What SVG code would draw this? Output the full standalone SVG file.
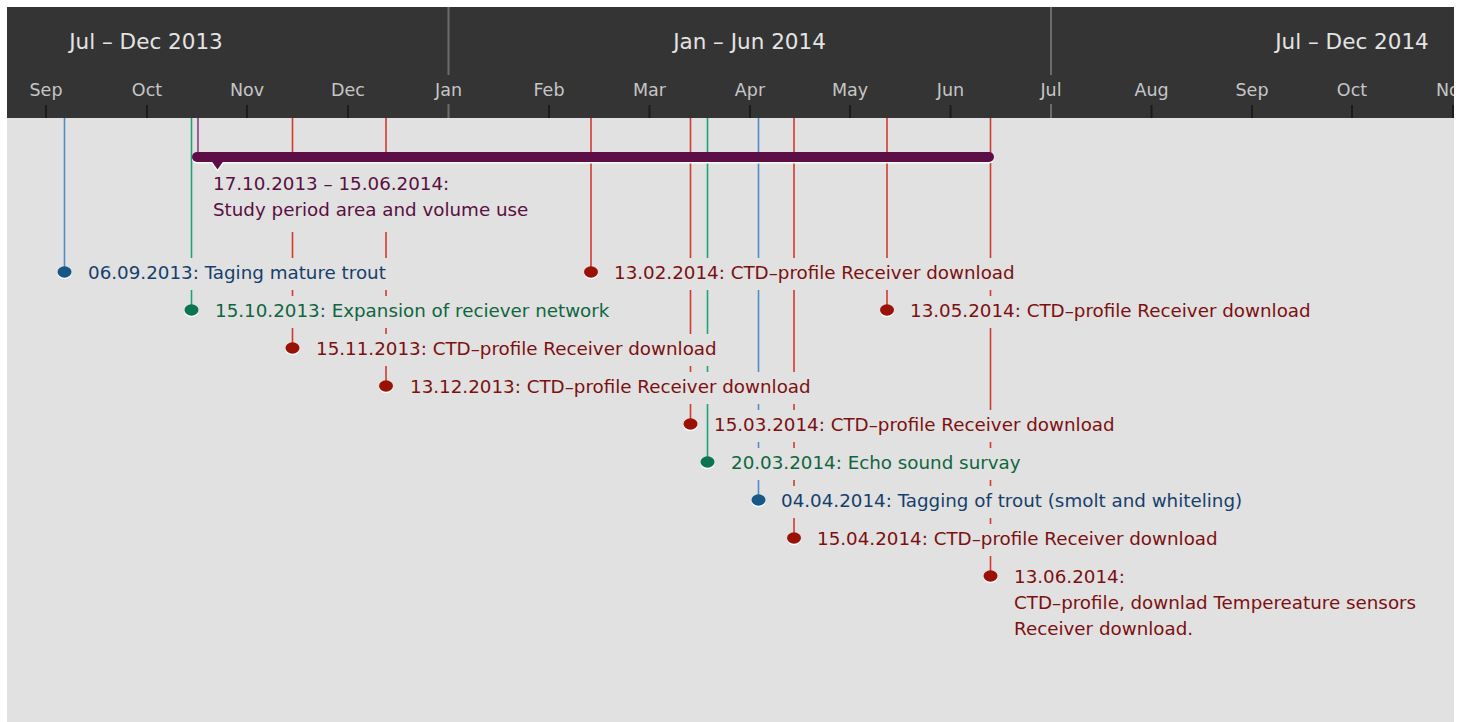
<svg xmlns="http://www.w3.org/2000/svg" width="1460" height="722" viewBox="0 0 1460 722">
  <style>
    .hdr{fill:#343434}
    .yr{font-family:"DejaVu Sans",sans-serif;font-size:21.5px;fill:#e4e4e4;text-anchor:middle}
    .mo{font-family:"DejaVu Sans",sans-serif;font-size:17.5px;fill:#c6c6c6;text-anchor:middle}
    .tick{stroke:#1b1b1b;stroke-width:2}
    .major{stroke:#6c6c6c;stroke-width:2}
    .lbl{font-family:"DejaVu Sans",sans-serif;font-size:18.3px}
    .bg{fill:#e1e1e1}
    .shadow{fill:#ffffff}
    .stem{stroke-width:1.6;fill:none}
    .red .stem{stroke:#d23a2e}
    .red .dot{fill:#9a1205}
    .red text{fill:#7c1010}
    .blue .stem{stroke:#4f8dc6}
    .blue .dot{fill:#175888}
    .blue text{fill:#163f6b}
    .green .stem{stroke:#1fa27a}
    .green .dot{fill:#0b7550}
    .green text{fill:#0f6640}
    .purple .stem{stroke:#8c3a86}
    .purple .bar{fill:#5d0e47}
    .purple text{fill:#5a0f42}
  </style>
  <defs>
    <clipPath id="panel"><rect x="7" y="7" width="1447" height="715"/></clipPath>
  </defs>

  <rect width="1460" height="722" fill="#ffffff"/>

  <g clip-path="url(#panel)">
    <rect x="7" y="7" width="1447" height="715" fill="#e1e1e1"/>

    <!-- time axis header -->
    <g id="axis">
      <rect class="hdr" x="7" y="7" width="1447" height="111"/>
      <text class="yr" x="146" y="49">Jul – Dec 2013</text>
      <text class="yr" x="749.5" y="49">Jan – Jun 2014</text>
      <text class="yr" x="1352" y="49">Jul – Dec 2014</text>
      <line class="major" x1="448.5" y1="7" x2="448.5" y2="75"/>
      <line class="major" x1="1051" y1="7" x2="1051" y2="75"/>
      <line class="major" x1="448.5" y1="104" x2="448.5" y2="118"/>
      <line class="major" x1="1051" y1="104" x2="1051" y2="118"/>
      <g>
        <line class="tick" x1="46" y1="105" x2="46" y2="118"/>
        <line class="tick" x1="147" y1="105" x2="147" y2="118"/>
        <line class="tick" x1="247" y1="105" x2="247" y2="118"/>
        <line class="tick" x1="348" y1="105" x2="348" y2="118"/>
        <line class="tick" x1="549" y1="105" x2="549" y2="118"/>
        <line class="tick" x1="649.5" y1="105" x2="649.5" y2="118"/>
        <line class="tick" x1="750" y1="105" x2="750" y2="118"/>
        <line class="tick" x1="850" y1="105" x2="850" y2="118"/>
        <line class="tick" x1="950.5" y1="105" x2="950.5" y2="118"/>
        <line class="tick" x1="1151.5" y1="105" x2="1151.5" y2="118"/>
        <line class="tick" x1="1252" y1="105" x2="1252" y2="118"/>
        <line class="tick" x1="1352" y1="105" x2="1352" y2="118"/>
        <line class="tick" x1="1453" y1="105" x2="1453" y2="118"/>
      </g>
      <text class="mo" x="46" y="96">Sep</text>
      <text class="mo" x="147" y="96">Oct</text>
      <text class="mo" x="247" y="96">Nov</text>
      <text class="mo" x="348" y="96">Dec</text>
      <text class="mo" x="448.5" y="96">Jan</text>
      <text class="mo" x="549" y="96">Feb</text>
      <text class="mo" x="649.5" y="96">Mar</text>
      <text class="mo" x="750" y="96">Apr</text>
      <text class="mo" x="850" y="96">May</text>
      <text class="mo" x="950.5" y="96">Jun</text>
      <text class="mo" x="1051" y="96">Jul</text>
      <text class="mo" x="1151.5" y="96">Aug</text>
      <text class="mo" x="1252" y="96">Sep</text>
      <text class="mo" x="1352" y="96">Oct</text>
      <text class="mo" x="1453" y="96">Nov</text>
    </g>

    <!-- stems from the axis down to each marker -->
    <g id="connectors">
      <g class="blue">
        <line class="stem" x1="64.5" y1="118" x2="64.5" y2="268"/>
        <line class="stem" x1="758.5" y1="118" x2="758.5" y2="496"/>
      </g>
      <g class="green">
        <line class="stem" x1="191.5" y1="118" x2="191.5" y2="306"/>
        <line class="stem" x1="707.5" y1="118" x2="707.5" y2="458"/>
      </g>
      <g class="purple">
        <line class="stem" x1="198" y1="118" x2="198" y2="153"/>
      </g>
      <g class="red">
        <line class="stem" x1="292.5" y1="118" x2="292.5" y2="344"/>
        <line class="stem" x1="386" y1="118" x2="386" y2="382"/>
        <line class="stem" x1="591" y1="118" x2="591" y2="268"/>
        <line class="stem" x1="690.5" y1="118" x2="690.5" y2="420"/>
        <line class="stem" x1="794" y1="118" x2="794" y2="534"/>
        <line class="stem" x1="887" y1="118" x2="887" y2="306"/>
        <line class="stem" x1="990.5" y1="118" x2="990.5" y2="572"/>
      </g>
    </g>

    <!-- study period range -->
    <g id="period" class="purple">
      <rect class="bg" x="209" y="163" width="314" height="69"/>
      <rect class="shadow" x="192" y="153.5" width="802" height="10" rx="5"/>
      <path class="shadow" d="M211.5,163.5 L217.5,171.5 L223.5,163.5 Z"/>
      <rect class="bar" x="192" y="152" width="802" height="10" rx="5"/>
      <path class="bar" d="M211.5,161 L217.5,169.5 L223.5,161 Z"/>
      <text class="lbl" x="213" y="190">17.10.2013 – 15.06.2014:</text>
      <text class="lbl" x="213" y="216">Study period area and volume use</text>
    </g>

    <g id="ev-20130906" class="blue">
      <rect class="bg" x="84" y="258" width="307" height="32"/>
      <ellipse class="shadow" cx="64.5" cy="273.5" rx="7" ry="5.8"/>
      <ellipse class="dot" cx="64.5" cy="272" rx="7" ry="5.8"/>
      <text class="lbl" x="88" y="279">06.09.2013: Taging mature trout</text>
    </g>

    <g id="ev-20131015" class="green">
      <rect class="bg" x="211" y="296" width="397" height="32"/>
      <ellipse class="shadow" cx="191.5" cy="311.5" rx="7" ry="5.8"/>
      <ellipse class="dot" cx="191.5" cy="310" rx="7" ry="5.8"/>
      <text class="lbl" x="215" y="317">15.10.2013: Expansion of reciever network</text>
    </g>

    <g id="ev-20131115" class="red">
      <rect class="bg" x="312" y="334" width="407" height="32"/>
      <ellipse class="shadow" cx="292.5" cy="349.5" rx="7" ry="5.8"/>
      <ellipse class="dot" cx="292.5" cy="348" rx="7" ry="5.8"/>
      <text class="lbl" x="316" y="355">15.11.2013: CTD–profile Receiver download</text>
    </g>

    <g id="ev-20131213" class="red">
      <rect class="bg" x="406" y="372" width="406" height="32"/>
      <ellipse class="shadow" cx="386" cy="387.5" rx="7" ry="5.8"/>
      <ellipse class="dot" cx="386" cy="386" rx="7" ry="5.8"/>
      <text class="lbl" x="410" y="393">13.12.2013: CTD–profile Receiver download</text>
    </g>

    <g id="ev-20140213" class="red">
      <rect class="bg" x="610" y="258" width="407" height="32"/>
      <ellipse class="shadow" cx="591" cy="273.5" rx="7" ry="5.8"/>
      <ellipse class="dot" cx="591" cy="272" rx="7" ry="5.8"/>
      <text class="lbl" x="614" y="279">13.02.2014: CTD–profile Receiver download</text>
    </g>

    <g id="ev-20140315" class="red">
      <rect class="bg" x="710" y="410" width="407" height="32"/>
      <ellipse class="shadow" cx="690.5" cy="425.5" rx="7" ry="5.8"/>
      <ellipse class="dot" cx="690.5" cy="424" rx="7" ry="5.8"/>
      <text class="lbl" x="714" y="431">15.03.2014: CTD–profile Receiver download</text>
    </g>

    <g id="ev-20140320" class="green">
      <rect class="bg" x="727" y="448" width="293" height="32"/>
      <ellipse class="shadow" cx="707.5" cy="463.5" rx="7" ry="5.8"/>
      <ellipse class="dot" cx="707.5" cy="462" rx="7" ry="5.8"/>
      <text class="lbl" x="731" y="469">20.03.2014: Echo sound survay</text>
    </g>

    <g id="ev-20140404" class="blue">
      <rect class="bg" x="777" y="486" width="470" height="32"/>
      <ellipse class="shadow" cx="758.5" cy="501.5" rx="7" ry="5.8"/>
      <ellipse class="dot" cx="758.5" cy="500" rx="7" ry="5.8"/>
      <text class="lbl" x="781" y="507">04.04.2014: Tagging of trout (smolt and whiteling)</text>
    </g>

    <g id="ev-20140415" class="red">
      <rect class="bg" x="813" y="524" width="407" height="32"/>
      <ellipse class="shadow" cx="794" cy="539.5" rx="7" ry="5.8"/>
      <ellipse class="dot" cx="794" cy="538" rx="7" ry="5.8"/>
      <text class="lbl" x="817" y="545">15.04.2014: CTD–profile Receiver download</text>
    </g>

    <g id="ev-20140513" class="red">
      <rect class="bg" x="906" y="296" width="407" height="32"/>
      <ellipse class="shadow" cx="887" cy="311.5" rx="7" ry="5.8"/>
      <ellipse class="dot" cx="887" cy="310" rx="7" ry="5.8"/>
      <text class="lbl" x="910" y="317">13.05.2014: CTD–profile Receiver download</text>
    </g>

    <g id="ev-20140613" class="red">
      <rect class="bg" x="1010" y="562" width="414" height="80"/>
      <ellipse class="shadow" cx="990.5" cy="577.5" rx="7" ry="5.8"/>
      <ellipse class="dot" cx="990.5" cy="576" rx="7" ry="5.8"/>
      <text class="lbl" x="1014" y="583">13.06.2014:</text>
      <text class="lbl" x="1014" y="609">CTD–profile, downlad Tempereature sensors</text>
      <text class="lbl" x="1014" y="635">Receiver download.</text>
    </g>
  </g>
</svg>
